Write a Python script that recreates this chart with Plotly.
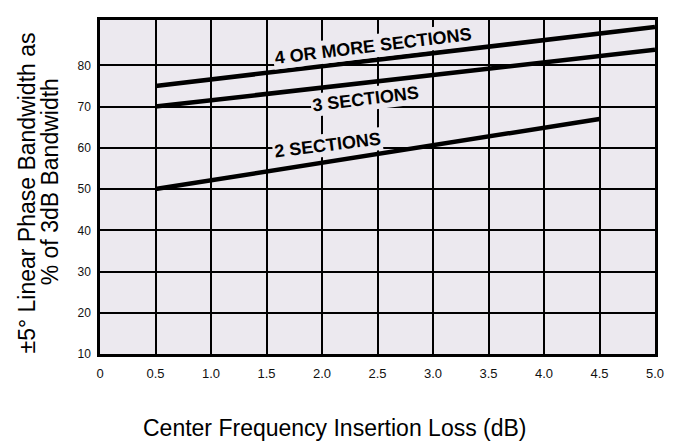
import plotly.graph_objects as go

# ---- data ----
loss_4 = [0.5, 5.0]
bw_4 = [75, 89.3]
loss_3 = [0.5, 5.0]
bw_3 = [70, 83.8]
loss_2 = [0.5, 4.5]
bw_2 = [50, 67]

label_text = ["4 OR MORE SECTIONS", "3 SECTIONS", "2 SECTIONS"]
label_x = [2.46, 2.39, 2.05]
label_y = [84.8, 71.9, 60.7]

x_tickvals = [0, 0.5, 1.0, 1.5, 2.0, 2.5, 3.0, 3.5, 4.0, 4.5, 5.0]
x_ticktext = ["0", "0.5", "1.0", "1.5", "2.0", "2.5", "3.0", "3.5", "4.0", "4.5", "5.0"]
y_tickvals = [10, 20, 30, 40, 50, 60, 70, 80]

BG = "#ece9ef"
FONT = "Liberation Sans, Arial, sans-serif"

# page body has an 8px default margin -> compensate
OFF = 8
W, H = 673 - OFF, 441 - OFF
L, R, T, B = 100 - OFF, 673 - 655 - OFF, 17 - OFF, 441 - 354
pw, ph = W - L - R, H - T - B


def px_to_paper(sx, sy):
    fx, fy = sx - OFF, sy - OFF
    return (fx - L) / pw, (H - B - fy) / ph


fig = go.Figure()
for xs, ys in [(loss_4, bw_4), (loss_3, bw_3), (loss_2, bw_2)]:
    fig.add_trace(go.Scatter(x=xs, y=ys, mode="lines",
                             line=dict(color="black", width=4.5),
                             showlegend=False, hoverinfo="skip"))

for t, x, y in zip(label_text, label_x, label_y):
    fig.add_annotation(x=x, y=y, xref="x", yref="y", text="<b>" + t + "</b>",
                       showarrow=False, textangle=-7, bgcolor=BG,
                       font=dict(family=FONT, size=18, color="black"),
                       borderpad=1)

titles = [
    ("±5° Linear Phase Bandwidth as", 26, 192, -90),
    ("% of 3dB Bandwidth", 49, 180, -90),
    ("Center Frequency Insertion Loss (dB)", 338, 429, 0),
]
for text, sx, sy, ang in titles:
    ax, ay = px_to_paper(sx, sy)
    fig.add_annotation(x=ax, y=ay, xref="paper", yref="paper", text=text,
                       showarrow=False, textangle=ang,
                       xanchor="center", yanchor="middle",
                       font=dict(family=FONT, size=23, color="black"))

fig.update_layout(
    width=W, height=H,
    margin=dict(l=L, r=R, t=T, b=B),
    paper_bgcolor="white", plot_bgcolor=BG,
    font=dict(family=FONT, color="black"),
)
fig.update_xaxes(range=[0, 5], tickvals=x_tickvals, ticktext=x_ticktext,
                 showgrid=True, gridcolor="black", gridwidth=2,
                 showline=True, linecolor="black", linewidth=2.5, mirror=True,
                 zeroline=False, ticks="", ticklabelstandoff=6,
                 tickfont=dict(size=13, family=FONT, color="#111"))
fig.update_yaxes(range=[10, 91], tickvals=y_tickvals,
                 showgrid=True, gridcolor="black", gridwidth=2,
                 showline=True, linecolor="black", linewidth=2.5, mirror=True,
                 zeroline=False, ticks="", ticklabelstandoff=4,
                 tickfont=dict(size=12, family=FONT, color="#111"))

fig.write_html("out.html")
